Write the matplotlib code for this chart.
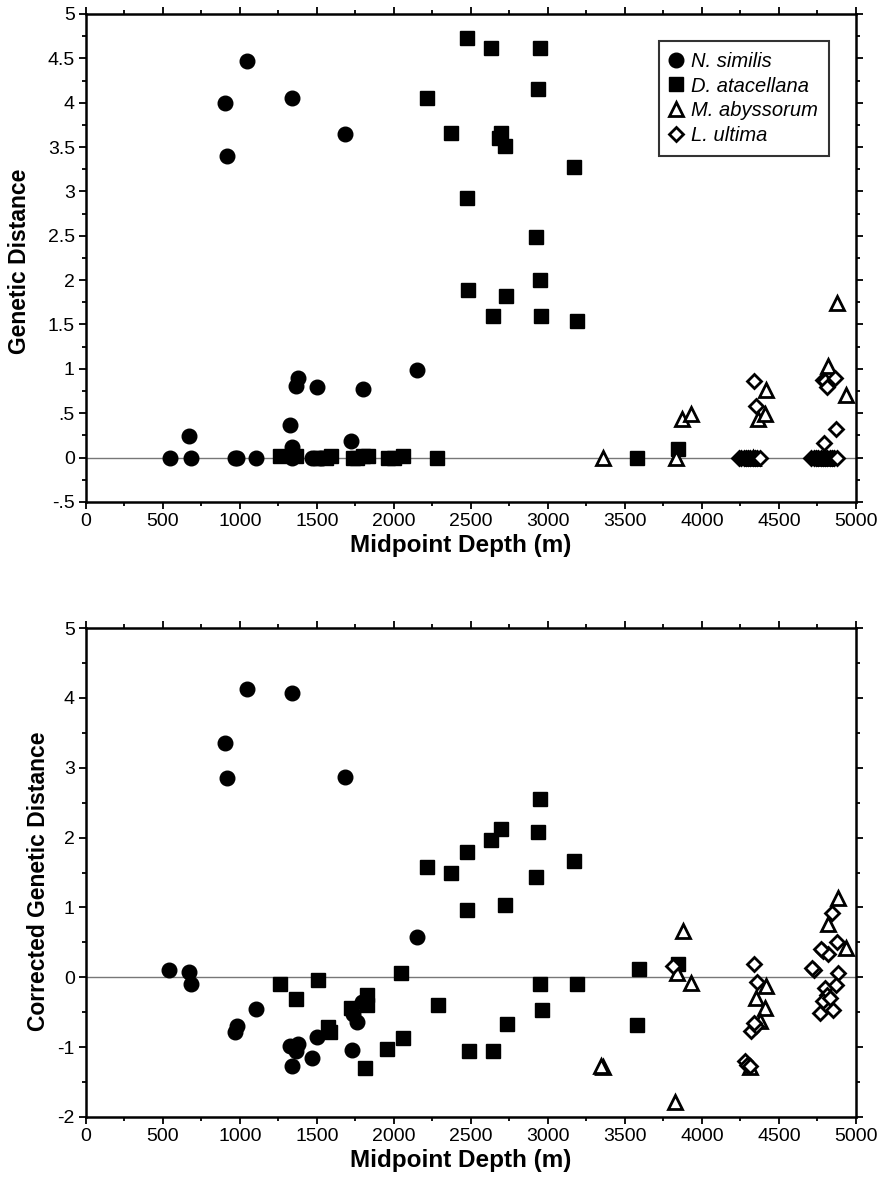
import matplotlib
matplotlib.use('Agg')
import matplotlib.pyplot as plt
from matplotlib.ticker import MultipleLocator

plt.rcParams['font.family'] = ['Liberation Sans', 'DejaVu Sans']

# ---- top panel: genetic distance ----
ns_x1 = [543, 670, 685, 965, 983, 1107, 1324, 1335, 1363, 1374, 1500, 1724, 1800, 2150,
         1340, 1470, 1490, 1510, 1530, 900, 913, 1044, 1335, 1683]
ns_y1 = [0, 0.24, 0, 0, 0, 0, 0.37, 0.12, 0.81, 0.90, 0.79, 0.19, 0.77, 0.985,
         0, 0, 0, 0, 0, 4.00, 3.40, 4.465, 4.05, 3.65]

da_x1 = [1261, 1363, 1560, 1590, 1733, 1760, 1800, 1830, 1961, 2000, 2059, 2280,
         2213, 2368, 2472, 2472, 2627, 2946, 2933, 2692, 2679, 2718, 3166, 2920, 2946,
         2483, 2640, 2729, 2957, 3190, 3578, 3842]
da_y1 = [0.02, 0.02, 0, 0.02, 0, 0, 0.02, 0.02, 0, 0, 0.02, 0,
         4.05, 3.66, 4.73, 2.93, 4.615, 4.615, 4.15, 3.66, 3.60, 3.51, 3.28, 2.49, 2.0,
         1.89, 1.60, 1.825, 1.60, 1.54, 0, 0.095]

ma_x1 = [3355, 3831, 3870, 3927, 4362, 4410, 4416, 4330, 4816, 4879, 4936, 4800]
ma_y1 = [0, 0, 0.43, 0.49, 0.43, 0.49, 0.76, 0, 1.03, 1.74, 0.70, 0]

lu_x1 = [4340, 4353, 4783, 4800, 4810, 4864, 4790, 4870,
         4240, 4255, 4270, 4285, 4300, 4315, 4330, 4345, 4360, 4375,
         4710, 4725, 4740, 4755, 4770, 4785, 4800, 4815, 4830, 4845, 4860, 4875]
lu_y1 = [0.86, 0.58, 0.88, 0.86, 0.795, 0.90, 0.17, 0.325,
         0, 0, 0, 0, 0, 0, 0, 0, 0, 0,
         0, 0, 0, 0, 0, 0, 0, 0, 0, 0, 0, 0]

# ---- bottom panel: corrected genetic distance ----
ns_x2 = [539, 670, 683, 978, 965, 1107, 1324, 1374, 1363, 1335, 1465, 1500, 1727,
         1761, 1733, 1790, 2150, 1044, 1335, 900, 913, 1683]
ns_y2 = [0.11, 0.08, -0.095, -0.70, -0.79, -0.46, -0.99, -0.96, -1.05, -1.27, -1.16,
         -0.85, -1.04, -0.635, -0.53, -0.36, 0.577, 4.13, 4.07, 3.35, 2.85, 2.87]

da_x2 = [1261, 1363, 1505, 1570, 1585, 1718, 1826, 1826, 1813, 1957, 2059, 2046, 2288,
         2216, 2370, 2477, 2472, 2488, 2640, 2718, 2733, 2631, 2692, 2951, 2935, 2924,
         2946, 2962, 3166, 3190, 3588, 3575, 3845]
da_y2 = [-0.095, -0.31, -0.04, -0.705, -0.78, -0.435, -0.26, -0.39, -1.30, -1.02, -0.865,
         0.067, -0.39, 1.58, 1.50, 1.80, 0.96, -1.05, -1.05, 1.04, -0.67, 1.97, 2.12,
         2.556, 2.085, 1.43, -0.10, -0.47, 1.66, -0.10, 0.124, -0.69, 0.186]

ma_x2 = [3357, 3345, 3825, 3879, 3837, 3929, 4418, 4353, 4407, 4310, 4375, 4886, 4821, 4936]
ma_y2 = [-1.29, -1.27, -1.78, 0.66, 0.067, -0.076, -0.13, -0.29, -0.44, -1.29, -0.625,
         1.13, 0.76, 0.42]

lu_x2 = [3814, 4340, 4358, 4320, 4353, 4340, 4277, 4295, 4310, 4842, 4783, 4875, 4821,
         4727, 4713, 4881, 4799, 4870, 4810, 4788, 4766, 4853, 4832, 4770]
lu_y2 = [0.16, 0.186, -0.067, -0.77, -0.70, -0.65, -1.20, -1.25, -1.27, 0.925, 0.38,
         0.50, 0.33, 0.11, 0.13, 0.067, -0.15, -0.105, -0.26, -0.34, -0.515, -0.47,
         -0.29, 0.40]

species = ['N. similis', 'D. atacellana', 'M. abyssorum', 'L. ultima']

top_yticks = [-0.5, 0, 0.5, 1, 1.5, 2, 2.5, 3, 3.5, 4, 4.5, 5]
top_ylabels = ['-.5', '0', '.5', '1', '1.5', '2', '2.5', '3', '3.5', '4', '4.5', '5']
bot_yticks = [-2, -1, 0, 1, 2, 3, 4, 5]
xticks = [0, 500, 1000, 1500, 2000, 2500, 3000, 3500, 4000, 4500, 5000]

fig = plt.figure(figsize=(8.79, 11.83), dpi=100)
ax1 = fig.add_axes([0.0978, 0.5757, 0.876, 0.4125])
ax2 = fig.add_axes([0.0978, 0.0558, 0.876, 0.4133])


def draw(ax, data):
    ax.axhline(0, color='#777777', lw=1.0, zorder=1)
    (nx, ny), (dx, dy), (mx, my), (lx, ly) = data
    ax.plot(nx, ny, 'o', ms=10.5, color='black', ls='none', label=species[0], zorder=3)
    ax.plot(dx, dy, 's', ms=10, color='black', ls='none', label=species[1], zorder=3)
    ax.plot(mx, my, '^', ms=10, mfc='white', mec='black', mew=2.0, ls='none',
            label=species[2], zorder=4)
    ax.plot(lx, ly, 'D', ms=7.5, mfc='white', mec='black', mew=2.0, ls='none',
            label=species[3], zorder=4)
    ax.set_xlim(0, 5000)
    ax.set_xticks(xticks)
    ax.set_xticklabels([str(t) for t in xticks])
    ax.xaxis.set_minor_locator(MultipleLocator(250))
    ax.tick_params(which='both', direction='out', top=True, right=True,
                   labelsize=14, width=1.3, pad=3)
    ax.tick_params(which='major', length=5)
    ax.tick_params(which='minor', length=3)
    for s in ax.spines.values():
        s.set_linewidth(1.8)
    ax.set_xlabel('Midpoint Depth (m)', fontsize=17.5, fontweight='bold')
    ax.xaxis.set_label_coords(0.487, -0.066)


draw(ax1, [(ns_x1, ns_y1), (da_x1, da_y1), (ma_x1, ma_y1), (lu_x1, lu_y1)])
ax1.set_ylim(-0.5, 5)
ax1.set_yticks(top_yticks)
ax1.set_yticklabels(top_ylabels)
ax1.yaxis.set_minor_locator(MultipleLocator(0.25))
ax1.set_ylabel('Genetic Distance', fontsize=16.5, fontweight='bold')
ax1.yaxis.set_label_coords(-0.071, 0.494)
leg = ax1.legend(loc='upper right', bbox_to_anchor=(0.965, 0.945), frameon=True,
                 fancybox=False, edgecolor='black', handlelength=0.6, handletextpad=0.45,
                 borderpad=0.55, labelspacing=0.28, borderaxespad=0,
                 prop={'style': 'italic', 'size': 14.5})
leg.get_frame().set_linewidth(1.5)

draw(ax2, [(ns_x2, ns_y2), (da_x2, da_y2), (ma_x2, ma_y2), (lu_x2, lu_y2)])
ax2.set_ylim(-2, 5)
ax2.set_yticks(bot_yticks)
ax2.set_yticklabels([str(t) for t in bot_yticks])
ax2.yaxis.set_minor_locator(MultipleLocator(0.5))
ax2.set_ylabel('Corrected Genetic Distance', fontsize=16.5, fontweight='bold')
ax2.yaxis.set_label_coords(-0.047, 0.483)

fig.savefig('out.png', dpi=100)
